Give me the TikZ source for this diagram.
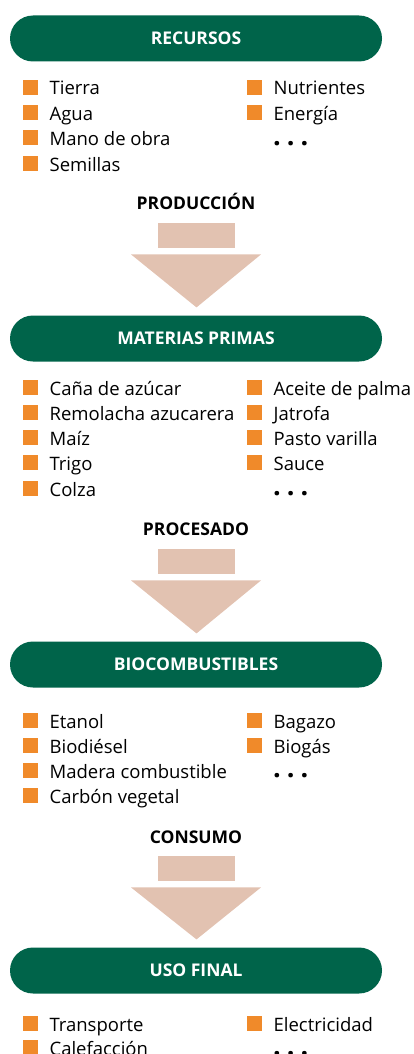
\documentclass[tikz,border=0pt]{standalone}
\usepackage{fontspec}
\setmainfont{Open Sans}
\usetikzlibrary{positioning,calc}

\definecolor{stagegreen}{HTML}{00644A}
\definecolor{bulletorange}{HTML}{F08A2A}
\definecolor{arrowbeige}{HTML}{E2C2B1}

\tikzset{
  stage/.style={fill=stagegreen, text=white, rounded corners=23pt,
    minimum width=372pt, minimum height=46pt, inner sep=0pt,
    font=\bfseries\fontsize{17.5}{20}\selectfont},
  flowlabel/.style={inner sep=0pt, anchor=base,
    font=\bfseries\fontsize{17.5}{20}\selectfont},
  shaft/.style={fill=arrowbeige, minimum width=77pt, minimum height=25pt,
    inner sep=0pt, anchor=north},
  bullet/.style={fill=bulletorange, minimum size=15pt, inner sep=0pt,
    anchor=south west},
  item/.style={inner sep=0pt, font=\fontsize{18.5}{22}\selectfont},
  more/.style={inner sep=0pt, anchor=base west,
    font=\bfseries\fontsize{27}{30}\selectfont}
}

% bullet item: name, x, baseline, text
\newcommand{\bitem}[4]{%
  \node[bullet] (#1) at (#2,#3) {};
  \node[item, right=11pt of #1.south east, anchor=base west] (#1t) {#4};}
% dots
\newcommand{\moredots}{.\hspace{6pt}.\hspace{6pt}.}

\begin{document}
\begin{tikzpicture}[x=1pt, y=-1pt]
  \useasboundingbox (0,0) rectangle (414,1054);

  % recursos
  \node[stage] (recursos) at (196,38.5) {RECURSOS};
  \bitem{tierra}{23}{95}{Tierra}
  \bitem{agua}{23}{120.5}{Agua}
  \bitem{mano}{23}{145.5}{Mano de obra}
  \bitem{semillas}{23}{171}{Semillas}
  \bitem{nutrientes}{247}{95}{Nutrientes}
  \bitem{energia}{247}{120.5}{Energía}
  \node[more] (dotsA) at (273,146) {\moredots};

  \node[flowlabel] (produccion) at (196,209) {PRODUCCIÓN};
  \node[shaft] (shaftA) at (196.5,223) {};
  \fill[arrowbeige] ($(shaftA.south)+(-65.5,6)$) -- ($(shaftA.south)+(64.5,6)$)
    -- ($(shaftA.south)+(0,59)$) -- cycle;

  % materias primas
  \node[stage] (materias) at (196,338.5) {MATERIAS PRIMAS};
  \bitem{cana}{23}{395}{Caña de azúcar}
  \bitem{remolacha}{23}{420}{Remolacha azucarera}
  \bitem{maiz}{23}{445}{Maíz}
  \bitem{trigo}{23}{470.5}{Trigo}
  \bitem{colza}{23}{496}{Colza}
  \bitem{aceite}{247}{395}{Aceite de palma}
  \bitem{jatrofa}{247}{420}{Jatrofa}
  \bitem{pasto}{247}{445}{Pasto varilla}
  \bitem{sauce}{247}{470.5}{Sauce}
  \node[more] (dotsB) at (273,495) {\moredots};

  \node[flowlabel] (procesado) at (196,535) {PROCESADO};
  \node[shaft] (shaftB) at (196.5,549) {};
  \fill[arrowbeige] ($(shaftB.south)+(-65.5,6)$) -- ($(shaftB.south)+(64.5,6)$)
    -- ($(shaftB.south)+(0,59)$) -- cycle;

  % biocombustibles
  \node[stage] (biocomb) at (196,664.5) {BIOCOMBUSTIBLES};
  \bitem{etanol}{23}{728}{Etanol}
  \bitem{biodiesel}{23}{753}{Biodiésel}
  \bitem{madera}{23}{778}{Madera combustible}
  \bitem{carbon}{23}{803}{Carbón vegetal}
  \bitem{bagazo}{247}{728}{Bagazo}
  \bitem{biogas}{247}{753}{Biogás}
  \node[more] (dotsC) at (273,777) {\moredots};

  \node[flowlabel] (consumo) at (196,843) {CONSUMO};
  \node[shaft] (shaftC) at (196.5,856) {};
  \fill[arrowbeige] ($(shaftC.south)+(-65.5,6)$) -- ($(shaftC.south)+(64.5,6)$)
    -- ($(shaftC.south)+(0,58)$) -- cycle;

  % uso final
  \node[stage] (usofinal) at (196,970.5) {USO FINAL};
  \bitem{transporte}{23}{1031}{Transporte}
  \bitem{calefaccion}{23}{1055}{Calefacción}
  \bitem{electricidad}{247}{1031}{Electricidad}
  \node[more] (dotsD) at (273,1055.5) {\moredots};
\end{tikzpicture}
\end{document}
